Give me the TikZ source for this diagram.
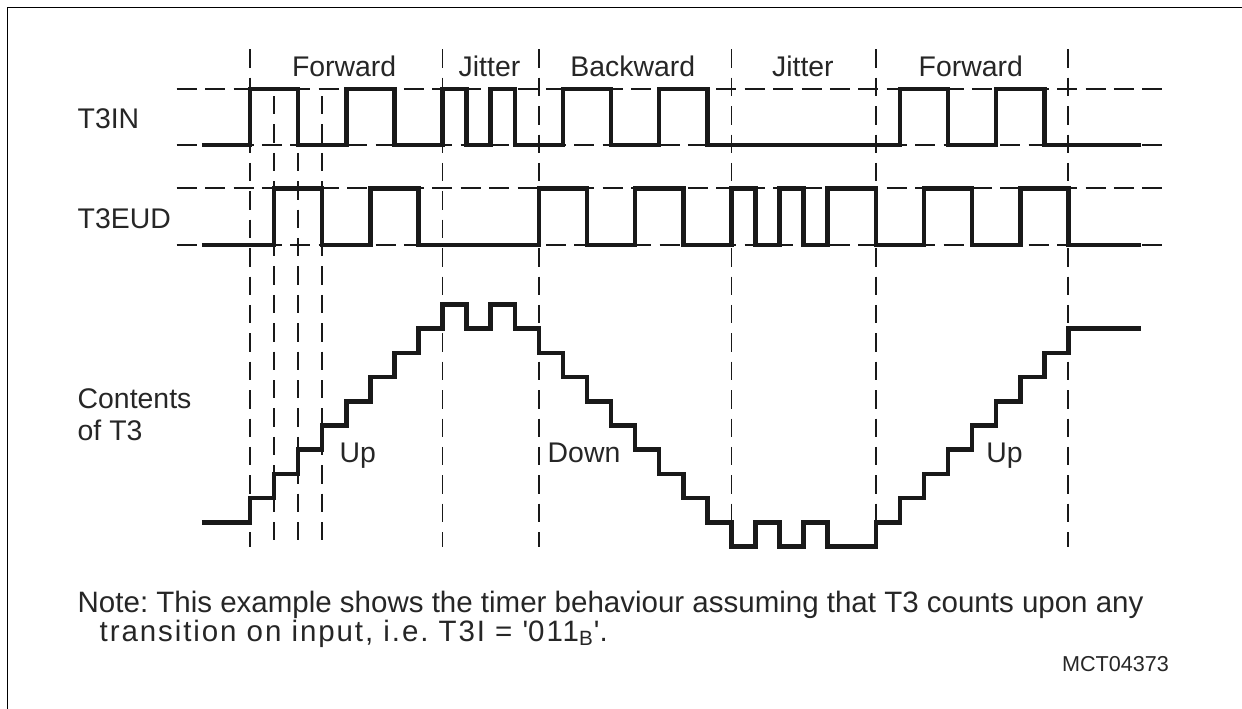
\documentclass[tikz,border=0pt]{standalone}
\usepackage{fontspec}
\setmainfont{Liberation Sans}
\begin{document}
\frenchspacing
\begin{tikzpicture}[x=0.5pt,y=-0.5pt,
  wave/.style={line width=2.25pt, line join=miter, line cap=butt, black!90},
  vguide/.style={line width=0.9pt, dash pattern=on 9.2pt off 5pt, black!90},
  hguide/.style={line width=0.9pt, dash pattern=on 10pt off 4.2pt, black!90},
  frameline/.style={line width=0.65pt, black},
  lbl/.style={inner sep=0pt, anchor=base west, font=\fontsize{14.2pt}{17pt}\selectfont, text=black!85},
  note/.style={inner sep=0pt, anchor=base west, font=\fontsize{14.75pt}{17pt}\selectfont, text=black!85},
  code/.style={inner sep=0pt, anchor=base west, font=\fontsize{10.8pt}{13pt}\selectfont, text=black!85}]
\useasboundingbox (0,0) rectangle (1242,708);
% frame
\draw[frameline] (7.3,720) |- (1260,7.3);
% horizontal guides
\foreach \yy in {89,145,188.3,245} \draw[hguide] (176.7,\yy) -- (1165,\yy);
% vertical guides and waveforms in time units
\begin{scope}[x=12.035pt, shift={(125pt,0pt)}]
  \foreach \tt in {0,8,12,34} \draw[vguide] (\tt,49.3) -- (\tt,546.7);
  \foreach \tt in {1,2,3} \draw[vguide] (\tt,96) -- (\tt,546.7);
  \foreach \tt in {20,26} \draw[vguide] (\tt,49.3) -- (\tt,522.3);
  % T3IN
  \draw[wave] (-2,145) -| (0,89) -| (2,145) -| (4,89) -| (6,145) -| (8,89) -| (9,145)
     -| (10,89) -| (11,145) -| (13,89) -| (15,145) -| (17,89) -| (19,145) -| (27,89)
     -| (29,145) -| (31,89) -| (33,145) -- (37,145);
  % T3EUD
  \draw[wave] (-2,245) -| (1,188.3) -| (3,245) -| (5,188.3) -| (7,245) -| (12,188.3)
     -| (14,245) -| (16,188.3) -| (18,245) -| (20,188.3) -| (21,245) -| (22,188.3)
     -| (23,245) -| (24,188.3) -| (26,245) -| (28,188.3) -| (30,245) -| (32,188.3)
     -| (34,245) -- (37,245);
\end{scope}
% contents of T3 staircase
\begin{scope}[x=12.035pt, y=12.1pt, shift={(125pt,-261.15pt)}]
  \draw[wave] (-2,0) -| (0,1) -| (1,2) -| (2,3) -| (3,4) -| (4,5) -| (5,6) -| (6,7)
     -| (7,8) -| (8,9) -| (9,8) -| (10,9) -| (11,8) -| (12,7) -| (13,6) -| (14,5)
     -| (15,4) -| (16,3) -| (17,2) -| (18,1) -| (19,0) -| (20,-1) -| (21,0) -| (22,-1)
     -| (23,0) -| (24,-1) -| (26,0) -| (27,1) -| (28,2) -| (29,3) -| (30,4) -| (31,5)
     -| (32,6) -| (33,7) -| (34,8) -- (37,8);
\end{scope}
% labels
\node[lbl] (fwd1) at (291.7,76) {Forward};
\node[lbl] (jit1) at (458.3,76) {Jitter};
\node[lbl] (bwd) at (570,76) {Backward};
\node[lbl] (jit2) at (771.7,76) {Jitter};
\node[lbl] (fwd2) at (918.3,76) {Forward};
\node[lbl] (t3in) at (77.3,128.3) {T3IN};
\node[lbl] (t3eud) at (77.3,228.3) {T3EUD};
\node[lbl] (cont1) at (77.3,408.3) {Contents};
\node[lbl] (cont2) at (77.3,440) {of T3};
\node[lbl] (up1) at (339.3,462.7) {Up};
\node[lbl] (down) at (547.3,462.7) {Down};
\node[lbl] (up2) at (986,462.7) {Up};
\node[note] (note1) at (77.3,612.3) {Note: This example shows the timer behaviour assuming that T3 counts upon any};
\node[note] (note2) at (99.3,641) {\addfontfeature{LetterSpace=6.5}transition on input, i.e. T3I = \textquotesingle 011\textsubscript{B}\textquotesingle.};
\node[code] (mct) at (1061.7,671.7) {MCT04373};
\end{tikzpicture}
\end{document}
